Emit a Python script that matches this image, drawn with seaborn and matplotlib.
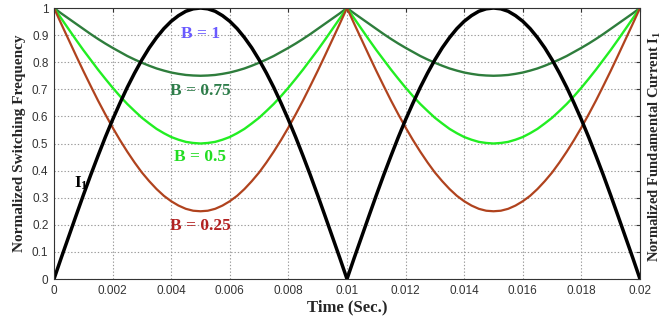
import matplotlib
matplotlib.use("Agg")
import matplotlib.pyplot as plt
import seaborn as sns
import pandas as pd

# time samples (s), two half periods of the 50 Hz supply, 0.25 ms apart
time = [round(0.00025 * k, 5) for k in range(81)]

# fundamental current magnitude |I1| (normalised)
i1 = [0.000, 0.079, 0.156, 0.233, 0.309, 0.383, 0.454, 0.523, 0.588, 0.649,
      0.707, 0.760, 0.809, 0.853, 0.891, 0.924, 0.951, 0.972, 0.988, 0.997,
      1.000, 0.997, 0.988, 0.972, 0.951, 0.924, 0.891, 0.853, 0.809, 0.760,
      0.707, 0.649, 0.588, 0.523, 0.454, 0.383, 0.309, 0.233, 0.156, 0.079,
      0.000, 0.079, 0.156, 0.233, 0.309, 0.383, 0.454, 0.523, 0.588, 0.649,
      0.707, 0.760, 0.809, 0.853, 0.891, 0.924, 0.951, 0.972, 0.988, 0.997,
      1.000, 0.997, 0.988, 0.972, 0.951, 0.924, 0.891, 0.853, 0.809, 0.760,
      0.707, 0.649, 0.588, 0.523, 0.454, 0.383, 0.309, 0.233, 0.156, 0.079,
      0.000]

# normalised switching frequency for each B
b100 = [1.0] * 81
b075 = [1.000, 0.980, 0.961, 0.942, 0.923, 0.904, 0.886, 0.869, 0.853, 0.838,
        0.823, 0.810, 0.798, 0.787, 0.777, 0.769, 0.762, 0.757, 0.753, 0.751,
        0.750, 0.751, 0.753, 0.757, 0.762, 0.769, 0.777, 0.787, 0.798, 0.810,
        0.823, 0.838, 0.853, 0.869, 0.886, 0.904, 0.923, 0.942, 0.961, 0.980,
        1.000, 0.980, 0.961, 0.942, 0.923, 0.904, 0.886, 0.869, 0.853, 0.838,
        0.823, 0.810, 0.798, 0.787, 0.777, 0.769, 0.762, 0.757, 0.753, 0.751,
        0.750, 0.751, 0.753, 0.757, 0.762, 0.769, 0.777, 0.787, 0.798, 0.810,
        0.823, 0.838, 0.853, 0.869, 0.886, 0.904, 0.923, 0.942, 0.961, 0.980,
        1.000]
b050 = [1.000, 0.961, 0.922, 0.883, 0.845, 0.809, 0.773, 0.739, 0.706, 0.675,
        0.646, 0.620, 0.595, 0.574, 0.554, 0.538, 0.524, 0.514, 0.506, 0.502,
        0.500, 0.502, 0.506, 0.514, 0.524, 0.538, 0.554, 0.574, 0.595, 0.620,
        0.646, 0.675, 0.706, 0.739, 0.773, 0.809, 0.845, 0.883, 0.922, 0.961,
        1.000, 0.961, 0.922, 0.883, 0.845, 0.809, 0.773, 0.739, 0.706, 0.675,
        0.646, 0.620, 0.595, 0.574, 0.554, 0.538, 0.524, 0.514, 0.506, 0.502,
        0.500, 0.502, 0.506, 0.514, 0.524, 0.538, 0.554, 0.574, 0.595, 0.620,
        0.646, 0.675, 0.706, 0.739, 0.773, 0.809, 0.845, 0.883, 0.922, 0.961,
        1.000]
b025 = [1.000, 0.941, 0.883, 0.825, 0.768, 0.713, 0.659, 0.608, 0.559, 0.513,
        0.470, 0.430, 0.393, 0.361, 0.332, 0.307, 0.287, 0.271, 0.259, 0.252,
        0.250, 0.252, 0.259, 0.271, 0.287, 0.307, 0.332, 0.361, 0.393, 0.430,
        0.470, 0.513, 0.559, 0.608, 0.659, 0.713, 0.768, 0.825, 0.883, 0.941,
        1.000, 0.941, 0.883, 0.825, 0.768, 0.713, 0.659, 0.608, 0.559, 0.513,
        0.470, 0.430, 0.393, 0.361, 0.332, 0.307, 0.287, 0.271, 0.259, 0.252,
        0.250, 0.252, 0.259, 0.271, 0.287, 0.307, 0.332, 0.361, 0.393, 0.430,
        0.470, 0.513, 0.559, 0.608, 0.659, 0.713, 0.768, 0.825, 0.883, 0.941,
        1.000]

x_ticks = [0.002 * k for k in range(11)]
x_tick_labels = ["0", "0.002", "0.004", "0.006", "0.008", "0.01",
                 "0.012", "0.014", "0.016", "0.018", "0.02"]
y_ticks = [0.1 * k for k in range(11)]
y_tick_labels = ["0", "0.1", "0.2", "0.3", "0.4", "0.5",
                 "0.6", "0.7", "0.8", "0.9", "1"]

sns.set_style("white")
plt.rcParams["font.family"] = ["Liberation Sans", "DejaVu Sans"]
plt.rcParams["mathtext.fontset"] = "custom"
plt.rcParams["mathtext.rm"] = "Liberation Serif:bold"
plt.rcParams["mathtext.it"] = "Liberation Serif:bold"
plt.rcParams["mathtext.bf"] = "Liberation Serif:bold"

fig = plt.figure(figsize=(6.65, 3.22), dpi=100)
ax = fig.add_axes([0.0812, 0.1335, 0.8812, 0.8416])

df = pd.DataFrame({"t": time, "i1": i1, "b100": b100, "b075": b075,
                   "b050": b050, "b025": b025})

series = [("b100", "#5b5bff", 1.4), ("b075", "#2e7d3c", 1.7),
          ("b050", "#22ee22", 1.7), ("b025", "#b0431e", 1.6),
          ("i1", "#000000", 2.5)]
for col, color, lw in series:
    sns.lineplot(data=df, x="t", y=col, color=color, linewidth=lw, ax=ax)

ax.set_xlim(0, 0.02)
ax.set_ylim(0, 1)
ax.set_xticks(x_ticks)
ax.set_xticklabels(x_tick_labels)
ax.set_yticks(y_ticks)
ax.set_yticklabels(y_tick_labels)
ax.tick_params(axis="both", labelsize=8.5, colors="#333333", direction="in",
               length=3, right=True, top=True, pad=4)
ax.grid(True, linestyle=(0, (1.2, 1.8)), color="#999999", linewidth=0.8)
for s in ax.spines.values():
    s.set_color("#333333")
    s.set_linewidth(0.8)

serif = ["Liberation Serif", "DejaVu Serif"]
ax.set_xlabel("Time (Sec.)", fontsize=12, fontweight="bold", family=serif,
              labelpad=2)
ax.set_ylabel("Normalized Switching Frequency", fontsize=11,
              fontweight="bold", family=serif, labelpad=4)
fig.text(647 / 665, 0.545, "Normalized Fundamental Current I$_1$",
         rotation=90, ha="left", va="center", fontsize=10.5,
         fontweight="bold", family=serif)

labels = [(0.005, 0.905, "B = 1", "#6a5aff"),
          (0.005, 0.695, "B = 0.75", "#2e7d4a"),
          (0.005, 0.45, "B = 0.5", "#22dd22"),
          (0.005, 0.195, "B = 0.25", "#b22222")]
for x, y, txt, color in labels:
    ax.text(x, y, txt, color=color, fontsize=12.5, fontweight="bold",
            family=serif, ha="center", va="center")
ax.text(0.00092, 0.355, "I$_1$", color="black", fontsize=12.5,
        fontweight="bold", family=serif, ha="center", va="center")

fig.savefig("out.png", dpi=100)
